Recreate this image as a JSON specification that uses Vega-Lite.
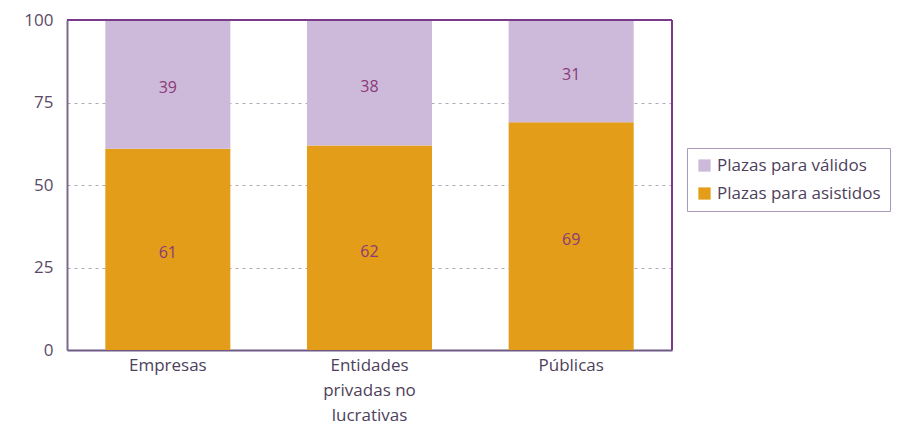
{
  "$schema": "https://vega.github.io/schema/vega-lite/v6.json",
  "width": 605,
  "height": 330,
  "autosize": {"type": "none"},
  "padding": {"left": 67, "top": 20, "right": 250, "bottom": 84},
  "background": "white",
  "config": {
    "font": "Open Sans",
    "view": {"stroke": null}
  },
  "data": {
    "values": [
      {"tipo": "Empresas", "serie": "Plazas para asistidos", "valor": 61, "orden": 1},
      {"tipo": "Empresas", "serie": "Plazas para válidos", "valor": 39, "orden": 2},
      {"tipo": "Entidades privadas no lucrativas", "serie": "Plazas para asistidos", "valor": 62, "orden": 1},
      {"tipo": "Entidades privadas no lucrativas", "serie": "Plazas para válidos", "valor": 38, "orden": 2},
      {"tipo": "Públicas", "serie": "Plazas para asistidos", "valor": 69, "orden": 1},
      {"tipo": "Públicas", "serie": "Plazas para válidos", "valor": 31, "orden": 2}
    ]
  },
  "transform": [
    {"stack": "valor", "groupby": ["tipo"], "sort": [{"field": "orden", "order": "ascending"}], "as": ["v0", "v1"]},
    {"calculate": "(datum.v0 + datum.v1) / 2", "as": "vmid"}
  ],
  "layer": [
    {
      "mark": {"type": "bar"},
      "encoding": {
        "x": {
          "field": "tipo",
          "type": "nominal",
          "sort": null,
          "scale": {"paddingInner": 0.38, "paddingOuter": 0.19},
          "axis": {
            "title": null,
            "labelAngle": 0,
            "labelFontSize": 17,
            "labelColor": "#4e3f5c",
            "labelPadding": 7,
            "labelLineHeight": 25,
            "labelExpr": "datum.label == 'Entidades privadas no lucrativas' ? ['Entidades', 'privadas no', 'lucrativas'] : datum.label",
            "domainColor": "#6f5a86",
            "domainWidth": 2,
            "ticks": false,
            "grid": false
          }
        },
        "y": {
          "field": "v0",
          "type": "quantitative",
          "scale": {"domain": [0, 100]},
          "axis": {
            "title": null,
            "values": [0, 25, 50, 75, 100],
            "labelFontSize": 17,
            "labelColor": "#5a4a66",
            "labelPadding": 14,
            "domainColor": "#7a6a90",
            "domainWidth": 2,
            "ticks": false,
            "grid": true,
            "gridDash": [3, 4],
            "gridColor": "#b0a8b8",
            "gridWidth": 1
          }
        },
        "y2": {"field": "v1"},
        "color": {
          "field": "serie",
          "type": "nominal",
          "scale": {
            "domain": ["Plazas para válidos", "Plazas para asistidos"],
            "range": ["#cdb9da", "#e39d18"]
          },
          "legend": {
            "title": null,
            "orient": "none",
            "legendX": 620,
            "legendY": 128,
            "symbolType": "square",
            "symbolSize": 150,
            "labelFontSize": 17,
            "labelLimit": 300,
            "labelColor": "#4e3f5c",
            "rowPadding": 10,
            "padding": 9,
            "strokeColor": "#a898bb",
            "symbolStrokeWidth": 0
          }
        }
      }
    },
    {
      "mark": {"type": "text", "fontSize": 16, "baseline": "middle", "dy": 4, "color": "#8a3a78"},
      "encoding": {
        "x": {"field": "tipo", "type": "nominal", "sort": null},
        "y": {"field": "vmid", "type": "quantitative"},
        "text": {"field": "valor", "type": "quantitative"}
      }
    },
    {
      "mark": {"type": "rule", "color": "#7a3a8a", "strokeWidth": 2},
      "encoding": {"y": {"datum": 100}}
    },
    {
      "mark": {"type": "rule", "color": "#7a3a8a", "strokeWidth": 2},
      "encoding": {"x": {"value": 605}, "y": {"datum": 100}, "y2": {"datum": 0}}
    }
  ]
}
